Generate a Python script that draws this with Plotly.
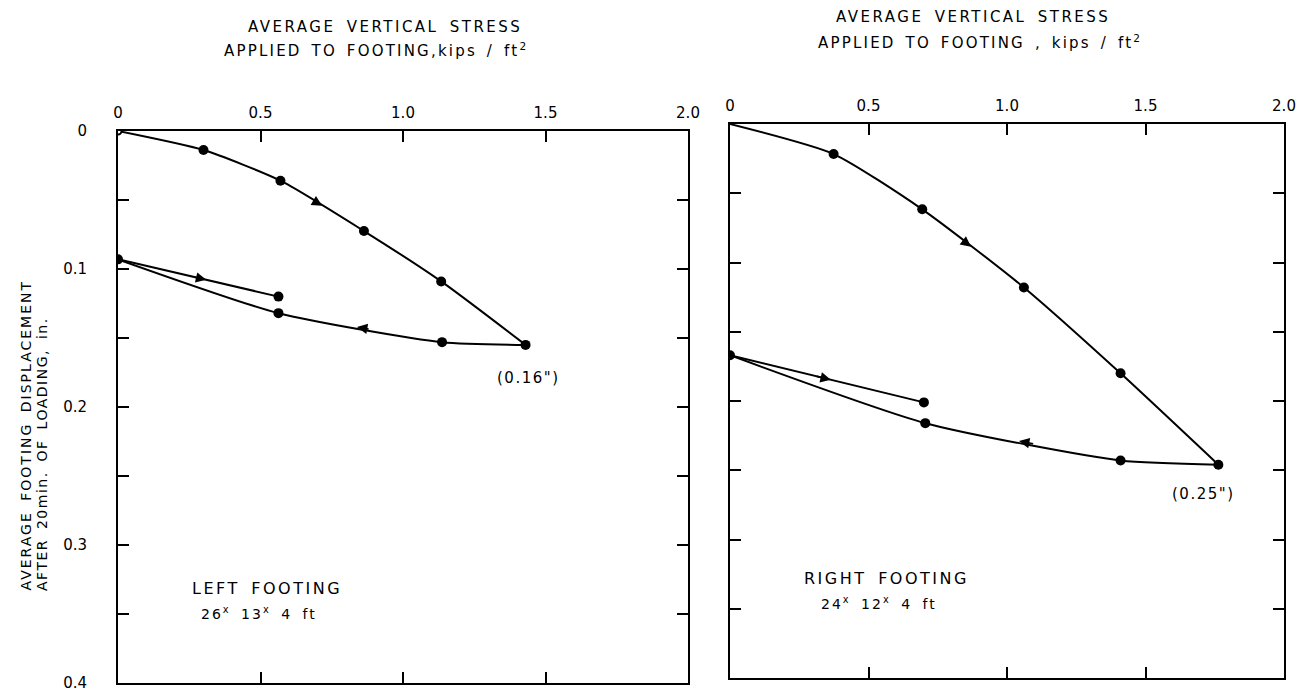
import plotly.graph_objects as go

# ---------------- data ----------------
# LEFT FOOTING 26 x 13 x 4 ft
left_load_stress = [0.0, 0.30, 0.57, 0.863, 1.134, 1.43]
left_load_disp = [0.0, 0.0138, 0.036, 0.0725, 0.109, 0.155]
left_unload_stress = [1.43, 1.137, 0.563, 0.0]
left_unload_disp = [0.155, 0.153, 0.132, 0.093]
left_reload_stress = [0.0, 0.563]
left_reload_disp = [0.093, 0.120]

# RIGHT FOOTING 24 x 12 x 4 ft
right_load_stress = [0.0, 0.374, 0.694, 1.061, 1.41, 1.763]
right_load_disp = [0.0, 0.0217, 0.0616, 0.118, 0.180, 0.246]
right_unload_stress = [1.763, 1.41, 0.705, 0.0]
right_unload_disp = [0.246, 0.243, 0.216, 0.167]
right_reload_stress = [0.0, 0.70]
right_reload_disp = [0.167, 0.201]

x_tick_vals = [0.0, 0.5, 1.0, 1.5, 2.0]
x_tick_text = ["0", "0.5", "1.0", "1.5", "2.0"]
y_tick_vals = [0.0, 0.05, 0.1, 0.15, 0.2, 0.25, 0.3, 0.35, 0.4]
y_tick_text = ["0", "", "0.1", "", "0.2", "", "0.3", "", "0.4"]

FONT = "DejaVu Sans"
W, H = 1298, 693


def px_x(p):
    return p / W


def px_y(p):
    return 1 - p / H


fig = go.Figure()


def add_curve(xs, ys, xa, ya, shape="spline"):
    fig.add_trace(go.Scatter(
        x=xs, y=ys, xaxis=xa, yaxis=ya, mode="lines",
        line=dict(color="black", width=2, shape=shape, smoothing=0.6),
        hoverinfo="skip", showlegend=False))


def add_points(xs, ys, xa, ya, size=10):
    fig.add_trace(go.Scatter(
        x=xs, y=ys, xaxis=xa, yaxis=ya, mode="markers",
        marker=dict(color="black", size=size, line=dict(width=0)),
        hoverinfo="skip", showlegend=False))


# left panel
add_curve(left_load_stress, left_load_disp, "x", "y")
add_curve(left_unload_stress, left_unload_disp, "x", "y")
add_curve(left_reload_stress, left_reload_disp, "x", "y", shape="linear")
add_points(left_load_stress[1:], left_load_disp[1:], "x", "y")
add_points(left_unload_stress[1:], left_unload_disp[1:], "x", "y")
add_points(left_reload_stress[1:], left_reload_disp[1:], "x", "y")
fig.add_trace(go.Scatter(
    x=left_load_stress[:1], y=left_load_disp[:1], xaxis="x", yaxis="y", mode="markers",
    marker=dict(color="white", size=7, line=dict(color="black", width=2)),
    hoverinfo="skip", showlegend=False))

# right panel
add_curve(right_load_stress, right_load_disp, "x2", "y2")
add_curve(right_unload_stress, right_unload_disp, "x2", "y2")
add_curve(right_reload_stress, right_reload_disp, "x2", "y2", shape="linear")
add_points(right_load_stress[1:], right_load_disp[1:], "x2", "y2")
add_points(right_unload_stress[1:], right_unload_disp[1:], "x2", "y2")
add_points(right_reload_stress[1:], right_reload_disp[1:], "x2", "y2")

annotations = []


def arrow(xs, ys, i, frac, xr, yr):
    dx = xs[i + 1] - xs[i]
    dy = ys[i + 1] - ys[i]
    hx = xs[i] + dx * frac
    hy = ys[i] + dy * frac
    annotations.append(dict(
        x=hx, y=hy, ax=hx - dx * 0.08, ay=hy - dy * 0.08,
        xref=xr, yref=yr, axref=xr, ayref=yr,
        showarrow=True, arrowhead=2, arrowsize=1.3, arrowwidth=1.6,
        arrowcolor="black", standoff=0, startstandoff=0, text=""))


arrow(left_load_stress, left_load_disp, 2, 0.5, "x", "y")
arrow(left_unload_stress, left_unload_disp, 1, 0.52, "x", "y")
arrow(left_reload_stress, left_reload_disp, 0, 0.55, "x", "y")
arrow(right_load_stress, right_load_disp, 2, 0.48, "x2", "y2")
arrow(right_unload_stress, right_unload_disp, 1, 0.52, "x2", "y2")
arrow(right_reload_stress, right_reload_disp, 0, 0.52, "x2", "y2")


def text(t, x, y, size=15, angle=0, xanchor="center", yanchor="middle", ls=2.5, ws=4):
    styled = '<span style="letter-spacing:%spx;word-spacing:%spx">%s</span>' % (ls, ws, t)
    annotations.append(dict(
        text=styled, x=px_x(x), y=px_y(y), xref="paper", yref="paper",
        showarrow=False, textangle=angle, xanchor=xanchor, yanchor=yanchor,
        font=dict(family=FONT, size=size, color="black")))


text("AVERAGE VERTICAL STRESS", 385, 27)
text("APPLIED TO FOOTING,kips / ft<sup>2</sup>", 376, 50, ls=2.2, ws=3)
text("AVERAGE VERTICAL STRESS", 973, 17)
text("APPLIED TO FOOTING , kips / ft<sup>2</sup>", 980, 42, ls=2.2, ws=3)
text("AVERAGE FOOTING DISPLACEMENT", 25, 593, size=14, angle=-90, yanchor="bottom", ls=2)
text("AFTER 20min. OF LOADING, in.", 42, 593, size=14, angle=-90, yanchor="bottom", ls=1.5)
text("LEFT FOOTING", 190, 588, size=16, xanchor="left", ls=2.5)
text("26<sup>x</sup> 13<sup>x</sup> 4 ft", 199, 613, size=14, xanchor="left", ls=2)
text("RIGHT FOOTING", 802, 578, size=16, xanchor="left", ls=2.5)
text("24<sup>x</sup> 12<sup>x</sup> 4 ft", 819, 603, size=14, xanchor="left", ls=2)
text("(0.16\")", 528, 378, size=15, ls=1.5)
text("(0.25\")", 1203, 494, size=15, ls=1.5)


def xaxis(dom, anchor):
    return dict(domain=dom, range=[0, 2], side="top", anchor=anchor, automargin=False,
                tickvals=x_tick_vals, ticktext=x_tick_text,
                ticks="inside", ticklen=11, tickwidth=1.6, tickcolor="black",
                ticklabelstandoff=5,
                showline=True, linewidth=2, linecolor="black", mirror="ticks",
                showgrid=False, zeroline=False,
                tickfont=dict(family=FONT, size=15, color="black"))


def yaxis(dom, anchor, labels):
    return dict(domain=dom, range=[0.4, 0], anchor=anchor, automargin=False,
                tickvals=y_tick_vals, ticktext=y_tick_text, showticklabels=labels,
                ticks="inside", ticklen=11, tickwidth=1.6, tickcolor="black",
                ticklabelstandoff=26,
                showline=True, linewidth=2, linecolor="black", mirror="ticks",
                showgrid=False, zeroline=False,
                tickfont=dict(family=FONT, size=15, color="black"))


fig.update_layout(
    width=W, height=H,
    margin=dict(l=0, r=0, t=0, b=0),
    paper_bgcolor="white", plot_bgcolor="white",
    showlegend=False,
    xaxis=xaxis([px_x(118), px_x(688)], "y"),
    yaxis=yaxis([px_y(683), px_y(131)], "x", True),
    xaxis2=xaxis([px_x(730), px_x(1284)], "y2"),
    yaxis2=yaxis([px_y(678), px_y(124)], "x2", False),
    annotations=annotations,
)

fig.write_html("out.html", config={"displayModeBar": False},
               post_script="document.body.style.margin='0px';")
